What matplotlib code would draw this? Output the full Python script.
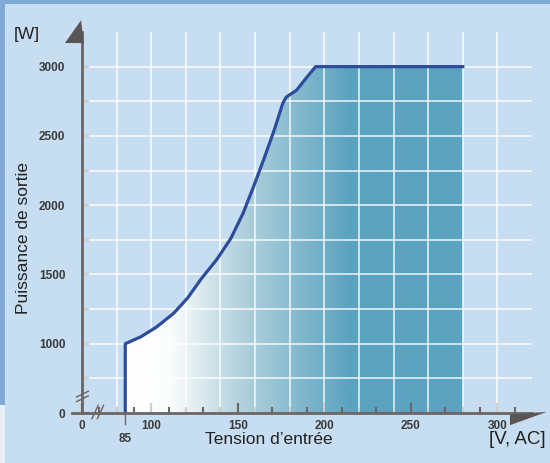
import numpy as np
import matplotlib
matplotlib.use('Agg')
import matplotlib.pyplot as plt
from matplotlib.colors import LinearSegmentedColormap
from matplotlib.patches import Polygon, Rectangle

# Output power curve (input voltage in V AC, output power in W)
volts = [85, 85, 94, 103, 113, 121, 129, 138, 146, 153, 159, 165, 171, 176, 178,
         184, 190, 195, 280]
watts = [0, 1000, 1050, 1120, 1220, 1330, 1470, 1610, 1760, 1940, 2130, 2330, 2540,
         2735, 2780, 2830, 2925, 3000, 3000]

# Ticks: the axes are broken, "0" sits at 60 V / 500 W
x_ticks = [60, 100, 150, 200, 250, 300]
x_tick_labels = ['0', '100', '150', '200', '250', '300']
y_ticks = [500, 1000, 1500, 2000, 2500, 3000]
y_tick_labels = ['0', '1000', '1500', '2000', '2500', '3000']
x_grid = list(range(80, 301, 20))
y_grid = list(range(750, 3001, 250))

font = ['Liberation Sans Narrow', 'Liberation Sans', 'DejaVu Sans']
axis_col = '#6b6565'
bg = '#c7ddf1'

fig = plt.figure(figsize=(5.5, 4.63), dpi=100, facecolor='#7faad6')
# light panel behind everything
fig.patches.append(Rectangle((5 / 550, 0), 1, 1 - 4 / 463, transform=fig.transFigure,
                             facecolor=bg, edgecolor='none', zorder=-2))
fig.patches.append(Rectangle((0, 0), 5 / 550, 58 / 463, transform=fig.transFigure,
                             facecolor='#e6eef6', edgecolor='none', zorder=-2))

ax = fig.add_axes([82 / 550, 50 / 463, 450 / 550, 381 / 463])
ax.set_facecolor('none')

# gradient fill under the curve
cmap = LinearSegmentedColormap.from_list(
    'fill', [(0, '#ffffff'), (0.2, '#fbfdfd'), (0.5, '#b5d3de'), (1, '#5ba3c0')], N=256)
grad = np.clip((np.linspace(85, 280, 400) - 85) / (215 - 85), 0, 1)[None, :]
im = ax.imshow(grad, extent=[85, 280, 0, 3000], aspect='auto', cmap=cmap,
               origin='lower', zorder=1, interpolation='bilinear')
poly = Polygon(list(zip(volts, watts)) + [(280, 0)], closed=True,
               transform=ax.transData, facecolor='none', edgecolor='none')
ax.add_patch(poly)
im.set_clip_path(poly)
ax.set_xlim(60, 320)
ax.set_ylim(500, 3250)

# grid
for gx in x_grid:
    ax.axvline(gx, color='white', lw=1.4, alpha=0.7, zorder=2)
for gy in y_grid:
    ax.axhline(gy, color='white', lw=1.4, alpha=0.7, zorder=2)

# curve
ax.plot(volts, watts, color='#2d4d9c', lw=2.3, solid_joinstyle='round', zorder=4)

# spines
for s in ['top', 'right']:
    ax.spines[s].set_visible(False)
for s in ['left', 'bottom']:
    ax.spines[s].set_color(axis_col)
    ax.spines[s].set_linewidth(2)
    ax.spines[s].set_zorder(5)

ax.set_xticks(x_ticks)
ax.set_xticklabels(x_tick_labels)
ax.set_xticks(list(range(70, 311, 10)), minor=True)
ax.set_yticks(y_ticks)
ax.set_yticklabels(y_tick_labels)
ax.set_yticks(list(range(750, 3001, 500)), minor=True)
ax.tick_params(axis='both', which='both', direction='in', color=axis_col, width=1.5)
ax.tick_params(axis='x', which='major', length=7, pad=5)
ax.tick_params(axis='x', which='minor', length=4)
ax.tick_params(axis='y', which='major', length=5, pad=12)
ax.tick_params(axis='y', which='minor', length=5)
for lab in ax.get_xticklabels() + ax.get_yticklabels():
    lab.set_family(font)
    lab.set_fontsize(8.5)
    lab.set_fontweight('bold')
    lab.set_color('#3a3a3a')

# 85 V marker below the axis
ax.plot([85, 85], [0, -0.03], color=axis_col, lw=1,
        transform=ax.get_xaxis_transform(), clip_on=False, zorder=5)
ax.text(85, -0.052, '85', transform=ax.get_xaxis_transform(), ha='center', va='top',
        fontsize=8.5, fontweight='bold', family=font, color='#3a3a3a')

# axis stub to the left and break marks
ax.plot([-0.022, 0], [0, 0], color=axis_col, lw=2, transform=ax.transAxes,
        clip_on=False, zorder=5)
for dx in [0.0, 0.012]:
    ax.plot([0.022 + dx, 0.036 + dx], [-0.015, 0.02], color=axis_col, lw=1,
            transform=ax.transAxes, clip_on=False, zorder=5)
for dy in [0.0, 0.012]:
    ax.plot([-0.012, 0.014], [0.03 + dy, 0.045 + dy], color=axis_col, lw=1,
            transform=ax.transAxes, clip_on=False, zorder=5)

# arrow heads
ax.add_patch(Polygon([(-0.038, 0.971), (-0.002, 1.031), (0.004, 0.971)], closed=True,
                     transform=ax.transAxes, clip_on=False, facecolor='#5a5454',
                     edgecolor='none', zorder=6))
ax.add_patch(Polygon([(0.951, -0.004), (1.033, 0.003), (0.951, -0.032)], closed=True,
                     transform=ax.transAxes, clip_on=False, facecolor='#5a5454',
                     edgecolor='none', zorder=6))

# labels
fig.text(27 / 550, 1 - 35 / 463, '[W]', ha='center', va='center', fontsize=12.5,
         family=font, color='#222222')
fig.text(24 / 550, 1 - 238 / 463, 'Puissance de sortie', ha='center', va='center',
         rotation=90, fontsize=12.5, family=font, color='#222222')
fig.text(269 / 550, 1 - 439 / 463, 'Tension d\u2019entrée', ha='center', va='center',
         fontsize=12.5, family=font, color='#222222')
fig.text(546 / 550, 1 - 439 / 463, '[V, AC]', ha='right', va='center', fontsize=13.5,
         family=font, color='#222222')

fig.savefig('out.png', dpi=100, facecolor=fig.get_facecolor())
